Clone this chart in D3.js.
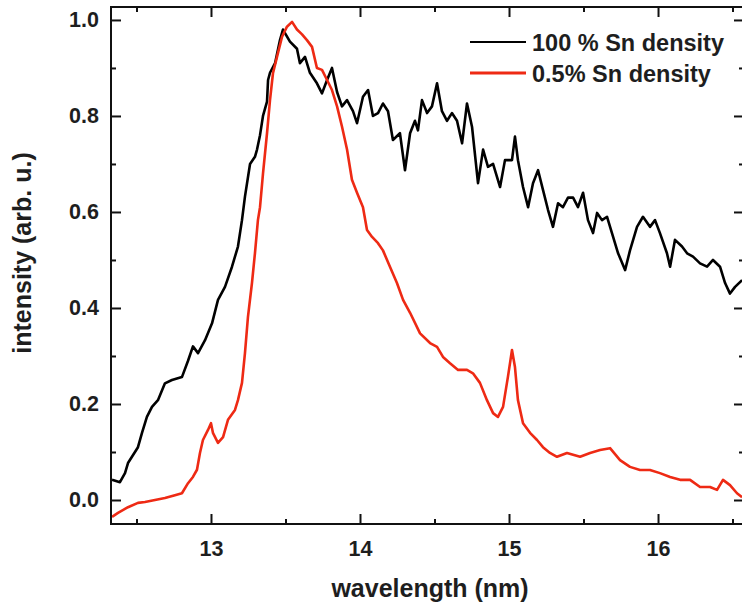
<!DOCTYPE html>
<html>
<head>
<meta charset="utf-8">
<script src="https://cdn.jsdelivr.net/npm/d3@7"></script>
<style>
	body { margin: 0; background: #fff; }
	text { font-family: "Liberation Sans", Arial, sans-serif; font-weight: bold; fill: #1e1e1e; }
</style>
</head>
<body>
<svg id="chart" width="742" height="607"></svg>
<script>
// spectra: wavelength (nm) / normalised intensity
var wl_full = [12.336, 12.389, 12.423, 12.443, 12.51, 12.537, 12.57, 12.604, 12.644, 12.691, 12.738, 12.805, 12.846, 12.879, 12.913, 12.96, 13.007, 13.047, 13.094, 13.141, 13.181, 13.208, 13.228, 13.262, 13.295, 13.309, 13.329, 13.349, 13.376, 13.383, 13.396, 13.43, 13.463, 13.483, 13.53, 13.577, 13.597, 13.631, 13.664, 13.711, 13.745, 13.779, 13.812, 13.846, 13.879, 13.913, 13.953, 13.98, 14.02, 14.054, 14.087, 14.121, 14.154, 14.188, 14.221, 14.268, 14.302, 14.336, 14.369, 14.389, 14.416, 14.45, 14.483, 14.517, 14.55, 14.584, 14.617, 14.651, 14.685, 14.718, 14.752, 14.792, 14.826, 14.859, 14.893, 14.94, 14.973, 15.02, 15.04, 15.06, 15.094, 15.128, 15.161, 15.195, 15.228, 15.262, 15.295, 15.329, 15.362, 15.396, 15.43, 15.463, 15.497, 15.53, 15.564, 15.591, 15.624, 15.658, 15.691, 15.732, 15.779, 15.812, 15.859, 15.899, 15.946, 15.98, 16.013, 16.06, 16.081, 16.114, 16.161, 16.195, 16.235, 16.282, 16.329, 16.369, 16.416, 16.45, 16.483, 16.517, 16.564];
var int_full = [0.042, 0.037, 0.056, 0.077, 0.11, 0.14, 0.173, 0.194, 0.208, 0.243, 0.25, 0.256, 0.29, 0.32, 0.306, 0.333, 0.368, 0.417, 0.444, 0.486, 0.528, 0.583, 0.632, 0.7, 0.715, 0.73, 0.76, 0.8, 0.83, 0.875, 0.89, 0.91, 0.958, 0.98, 0.955, 0.94, 0.91, 0.923, 0.89, 0.868, 0.847, 0.875, 0.9, 0.85, 0.82, 0.833, 0.81, 0.785, 0.84, 0.854, 0.8, 0.806, 0.826, 0.81, 0.75, 0.764, 0.687, 0.764, 0.79, 0.77, 0.833, 0.806, 0.82, 0.868, 0.81, 0.79, 0.806, 0.79, 0.743, 0.826, 0.777, 0.66, 0.73, 0.694, 0.7, 0.652, 0.708, 0.708, 0.757, 0.708, 0.652, 0.61, 0.66, 0.687, 0.646, 0.604, 0.569, 0.618, 0.61, 0.63, 0.63, 0.61, 0.64, 0.583, 0.556, 0.598, 0.583, 0.59, 0.556, 0.514, 0.479, 0.52, 0.569, 0.59, 0.569, 0.583, 0.556, 0.514, 0.486, 0.542, 0.528, 0.514, 0.507, 0.493, 0.486, 0.5, 0.486, 0.452, 0.43, 0.444, 0.458];

var wl_low = [12.336, 12.376, 12.443, 12.51, 12.557, 12.624, 12.691, 12.758, 12.805, 12.846, 12.879, 12.906, 12.926, 12.946, 12.98, 13.0, 13.013, 13.047, 13.081, 13.114, 13.161, 13.181, 13.208, 13.228, 13.248, 13.275, 13.295, 13.315, 13.329, 13.349, 13.376, 13.396, 13.416, 13.443, 13.477, 13.51, 13.544, 13.577, 13.611, 13.644, 13.678, 13.711, 13.745, 13.779, 13.812, 13.846, 13.879, 13.913, 13.946, 13.98, 14.02, 14.047, 14.081, 14.121, 14.154, 14.201, 14.248, 14.289, 14.336, 14.403, 14.47, 14.517, 14.557, 14.604, 14.658, 14.718, 14.758, 14.805, 14.852, 14.893, 14.926, 14.96, 14.993, 15.02, 15.04, 15.06, 15.094, 15.141, 15.188, 15.228, 15.275, 15.322, 15.389, 15.477, 15.544, 15.611, 15.678, 15.745, 15.812, 15.879, 15.946, 16.013, 16.081, 16.148, 16.215, 16.282, 16.349, 16.396, 16.436, 16.483, 16.53, 16.564];
var int_low = [-0.035, -0.027, -0.015, -0.006, -0.004, 0.0, 0.004, 0.01, 0.014, 0.035, 0.048, 0.063, 0.098, 0.125, 0.146, 0.16, 0.14, 0.119, 0.131, 0.167, 0.1875, 0.208, 0.244, 0.306, 0.381, 0.452, 0.514, 0.583, 0.61, 0.68, 0.764, 0.833, 0.889, 0.923, 0.965, 0.986, 0.996, 0.98, 0.97, 0.958, 0.944, 0.9, 0.896, 0.875, 0.854, 0.82, 0.778, 0.73, 0.667, 0.64, 0.61, 0.5625, 0.548, 0.535, 0.52, 0.486, 0.452, 0.417, 0.39, 0.347, 0.327, 0.319, 0.298, 0.285, 0.271, 0.271, 0.264, 0.244, 0.208, 0.181, 0.173, 0.194, 0.257, 0.3125, 0.277, 0.208, 0.16, 0.14, 0.125, 0.11, 0.098, 0.09, 0.098, 0.09, 0.098, 0.104, 0.108, 0.083, 0.069, 0.0625, 0.0625, 0.056, 0.048, 0.042, 0.042, 0.027, 0.027, 0.021, 0.042, 0.031, 0.014, 0.006];

var xTicks = [13, 14, 15, 16];
var xMinorTicks = [12.5, 13.5, 14.5, 15.5, 16.5];
var yTicks = [0.0, 0.2, 0.4, 0.6, 0.8, 1.0];
var yMinorTicks = [0.1, 0.3, 0.5, 0.7, 0.9];
var seriesNames = ['100 % Sn density', '0.5% Sn density'];
var seriesColors = ['#000000', '#ee2a14'];

(function () {
	var svg = d3.select('#chart');
	// the right frame edge sits just past the picture border, as in the original crop
	var pl = 111, pt = 7, pr = 744, pb = 524;

	var x = d3.scaleLinear().domain([12.329, 16.577]).range([pl, pr]);
	var y = d3.scaleLinear().domain([-0.05, 1.027]).range([pb, pt]);

	svg.append('clipPath').attr('id', 'plotclip')
		.append('rect')
		.attr('x', pl).attr('y', pt)
		.attr('width', pr - pl).attr('height', pb - pt);

	var line = d3.line()
		.x(function (d) { return x(d[0]); })
		.y(function (d) { return y(d[1]); });

	var full = wl_full.map(function (w, i) { return [w, int_full[i]]; });
	var low = wl_low.map(function (w, i) { return [w, int_low[i]]; });

	var plot = svg.append('g').attr('clip-path', 'url(#plotclip)');
	plot.append('path').datum(full)
		.attr('d', line).attr('fill', 'none')
		.attr('stroke', seriesColors[0]).attr('stroke-width', 2.6)
		.attr('stroke-linejoin', 'round');
	plot.append('path').datum(low)
		.attr('d', line).attr('fill', 'none')
		.attr('stroke', seriesColors[1]).attr('stroke-width', 2.6)
		.attr('stroke-linejoin', 'round');

	// axes, ticks pointing inwards on all four sides
	function drawAxis(axis, tr, major, minor, showLabels) {
		var g = svg.append('g').attr('transform', tr)
			.call(axis.tickValues(major).tickSizeInner(-10).tickSizeOuter(0));
		g.select('.domain').remove();
		g.selectAll('.tick line').attr('stroke', '#111').attr('stroke-width', 2);
		if (!showLabels) g.selectAll('.tick text').remove();
		var gm = svg.append('g').attr('transform', tr)
			.call(axis.tickValues(minor).tickSizeInner(-5).tickFormat(function () { return ''; }));
		gm.select('.domain').remove();
		gm.selectAll('.tick line').attr('stroke', '#111').attr('stroke-width', 2);
		return g;
	}

	var gx = drawAxis(d3.axisBottom(x).tickFormat(d3.format('d')), 'translate(0,' + pb + ')', xTicks, xMinorTicks, true);
	gx.selectAll('.tick text').attr('y', 17).attr('dy', '0.71em')
		.style('font-size', '21.5px').style('font-family', '"Liberation Sans", Arial, sans-serif')
		.style('font-weight', 'bold').attr('fill', '#1e1e1e');
	drawAxis(d3.axisTop(x), 'translate(0,' + pt + ')', xTicks, xMinorTicks, false);

	var gy = drawAxis(d3.axisLeft(y).tickFormat(d3.format('.1f')), 'translate(' + pl + ',0)', yTicks, yMinorTicks, true);
	gy.selectAll('.tick text').attr('x', -12)
		.style('font-size', '21.5px').style('font-family', '"Liberation Sans", Arial, sans-serif')
		.style('font-weight', 'bold').attr('fill', '#1e1e1e');
	drawAxis(d3.axisRight(y), 'translate(' + pr + ',0)', yTicks, yMinorTicks, false);

	svg.append('rect')
		.attr('x', pl).attr('y', pt)
		.attr('width', pr - pl).attr('height', pb - pt)
		.attr('fill', 'none').attr('stroke', '#111').attr('stroke-width', 2);

	// axis titles
	svg.append('text')
		.attr('x', 430).attr('y', 597)
		.attr('text-anchor', 'middle')
		.style('font-size', '25px')
		.text('wavelength (nm)');

	svg.append('text')
		.attr('transform', 'translate(31,253) rotate(-90)')
		.attr('text-anchor', 'middle')
		.style('font-size', '25px')
		.text('intensity (arb. u.)');

	// legend
	var legend = svg.append('g');
	seriesNames.forEach(function (name, i) {
		var ly = 42 + i * 31;
		legend.append('line')
			.attr('x1', 470).attr('x2', 526).attr('y1', ly).attr('y2', ly)
			.attr('stroke', seriesColors[i]).attr('stroke-width', i == 0 ? 2 : 3);
		legend.append('text')
			.attr('x', 532).attr('y', ly + 9)
			.style('font-size', '23.5px')
			.text(name);
	});
})();
</script>
</body>
</html>
